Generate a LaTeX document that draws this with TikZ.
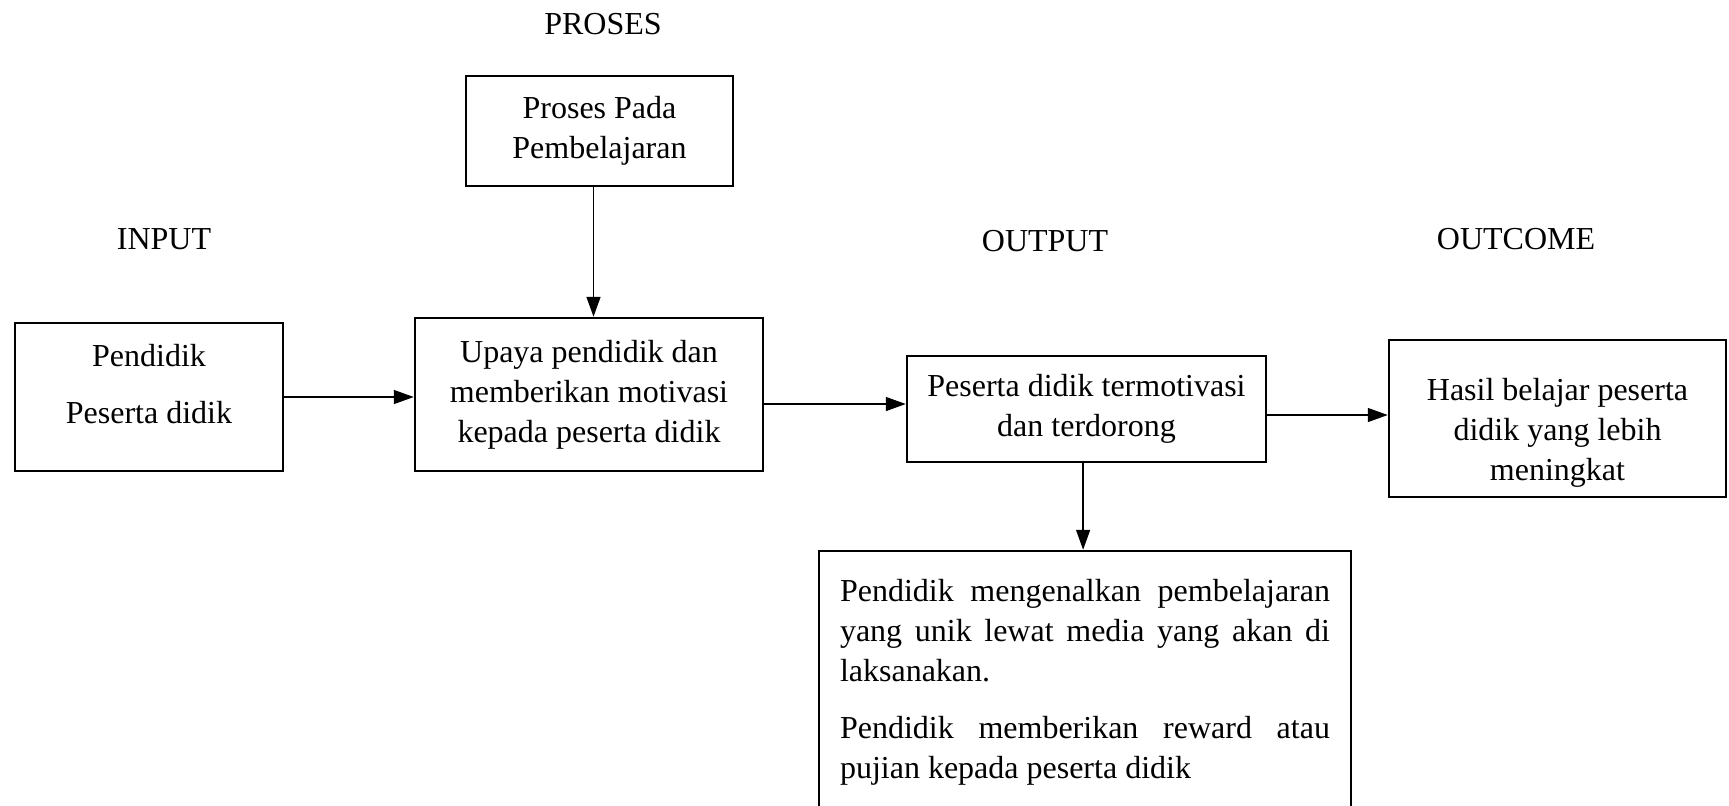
\documentclass[tikz,border=0pt]{standalone}
\usepackage{fontspec}
\setmainfont{Liberation Serif}
\usetikzlibrary{arrows.meta}

\begin{document}
\begin{tikzpicture} [x=0.5pt, y=-0.5pt,
  box/.style={draw=black, line width=1.25pt, align=center, inner sep=0pt,
    font=\fontsize{16}{20}\selectfont},
  arr/.style={black, line width=0.75pt, -{Triangle[length=10pt,width=7pt]}},
  head/.style={font=\fontsize{16}{20}\selectfont}]
\useasboundingbox (0,0) rectangle (1729,805);
% headings
\foreach \n/\x/\y/\t in {hproses/603/24/PROSES, hinput/164/239/INPUT,
  houtput/1045/241/OUTPUT, houtcome/1516/239/OUTCOME} {
 \node[head] (\n) at (\x,\y) {\t};
}
% boxes
\node[box, minimum width=134pt, minimum height=74pt] (inp) at (149,397)
  {Pendidik\\[8.5pt]Peserta didik\rule[-13pt]{0pt}{13pt}};
\node[box, minimum width=174pt, minimum height=76.5pt] (upaya) at (589,394.5)
  {Upaya pendidik dan\\memberikan motivasi\\kepada peserta didik};
\node[box, minimum width=133.5pt, minimum height=55pt] (proses) at (599.5,131)
  {Proses Pada\\Pembelajaran};
\node[box, minimum width=179.5pt, minimum height=53pt] (outp) at (1086.5,409)
  {Peserta didik termotivasi\\dan terdorong};
\node[box, minimum width=168.5pt, minimum height=78.5pt] (hasil) at (1557.5,418.5)
  {\rule{0pt}{25pt}Hasil belajar peserta\\didik yang lebih\\meningkat};
\node[box, align=justify, text width=245pt, minimum width=266pt, minimum height=131pt] (ket) at (1085,682)
  {Pendidik mengenalkan pembelajaran\linebreak yang unik lewat media yang akan di\linebreak laksanakan.\par\vspace{8.5pt}
   Pendidik memberikan reward atau\linebreak pujian kepada peserta didik};
% arrows
\draw[arr] (inp.east) -- (inp.east -| upaya.west);
\draw[arr] ([yshift=-4.75pt]upaya.east) -- ([yshift=-4.75pt]upaya.east -| outp.west);
\draw[arr] ([yshift=-3pt]outp.east) -- ([yshift=-3pt]outp.east -| hasil.west);
\draw[arr] ([xshift=-3pt]proses.south) -- ([xshift=-3pt]proses.south |- upaya.north);
\draw[arr] ([xshift=-1.7pt]outp.south) -- ([xshift=-1.7pt]outp.south |- ket.north);
\end{tikzpicture}
\end{document}
